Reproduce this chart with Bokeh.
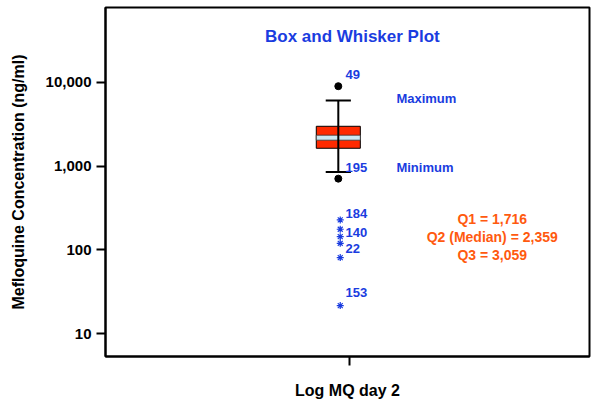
from bokeh.plotting import figure
from bokeh.models import Range1d, FixedTicker, NumeralTickFormatter
from bokeh.core.properties import value
from bokeh.embed import file_html
from bokeh.resources import INLINE

# ---- data ----
category = "Log MQ day 2"
q1 = 1630
median = 2180
q3 = 2980
whisker_max = 6070
whisker_min = 848
outlier_ids = ["49", "195"]
outlier_vals = [8960, 708]
extreme_ids = ["184", "140", "22", "153"]
extreme_vals = [228, 176.5, 144, 120, 81, 21.7]
stated_q = ["Q1 = 1,716", "Q2 (Median) = 2,359", "Q3 = 3,059"]
y_ticks = [10, 100, 1000, 10000]

# ---- styling / positions ----
BLUE = "#1a3ce0"
ORANGE = "#ff5a0f"
RED = "#ff2a00"
FONT = value("Liberation Sans")

cat_x = 1.0            # position of the single category on the x axis
box_x = 0.977          # box drawn slightly left of the tick (as in reference)
box_w = 0.091
cap_w = 0.052
star_x = 0.981
lab_x = 0.992
side_x = 1.097
q_x = 1.295

p = figure(width=598, height=403, y_axis_type="log",
           x_range=Range1d(0.496, 1.496), y_range=Range1d(5.362, 77750),
           output_backend="svg", toolbar_location=None,
           min_border_left=105, min_border_right=9, min_border_top=7,
           min_border_bottom=47)
p.background_fill_color = "white"
p.border_fill_color = "white"
p.outline_line_color = "black"
p.outline_line_width = 2
p.xgrid.grid_line_color = None
p.ygrid.grid_line_color = None

# y axis
p.yaxis.ticker = FixedTicker(ticks=y_ticks)
p.yaxis.formatter = NumeralTickFormatter(format="0,0")
p.yaxis.axis_label = "Mefloquine Concentration (ng/ml)"
p.yaxis.axis_label_standoff = 16
p.yaxis.major_label_standoff = 5
# x axis
p.xaxis.ticker = FixedTicker(ticks=[cat_x])
p.xaxis.major_label_overrides = {cat_x: ""}
p.xaxis.major_label_text_font_size = "1px"
p.xaxis.major_label_standoff = 0
p.xaxis.axis_label = category
p.xaxis.axis_label_standoff = 16
for ax in (p.xaxis, p.yaxis):
    ax.axis_line_width = 2
    ax.axis_line_color = "black"
    ax.major_tick_line_width = 2
    ax.major_tick_line_color = "black"
    ax.major_tick_out = 9
    ax.major_tick_in = 0
    ax.minor_tick_line_color = None
    ax.major_label_text_font = "Liberation Sans"
    ax.major_label_text_font_style = "bold"
    ax.major_label_text_color = "black"
    ax.axis_label_text_font = "Liberation Sans"
    ax.axis_label_text_font_style = "bold"
    ax.axis_label_text_color = "black"
    ax.axis_label_text_font_size = "16px"
p.yaxis.major_label_text_font_size = "15px"

# whisker line and caps
p.segment(x0=[box_x], y0=[whisker_min], x1=[box_x], y1=[whisker_max],
          line_color="black", line_width=2)
p.segment(x0=[box_x - cap_w / 2] * 2, y0=[whisker_min, whisker_max],
          x1=[box_x + cap_w / 2] * 2, y1=[whisker_min, whisker_max],
          line_color="black", line_width=2)
# box
p.quad(left=[box_x - box_w / 2], right=[box_x + box_w / 2], bottom=[q1], top=[q3],
       fill_color=RED, line_color="black", line_width=1)
# median band
p.rect(x=[box_x], y=[median], width=box_w, height=5, height_units="screen",
       fill_color="#cce8f2", line_color="#333333", line_width=0.8)
p.segment(x0=[box_x], y0=[q1], x1=[box_x], y1=[q3], line_color="black", line_width=2)

# outliers (dots) and extremes (stars)
p.scatter(x=[box_x] * len(outlier_vals), y=outlier_vals, size=7,
          fill_color="black", line_color="black")
p.scatter(x=[star_x] * len(extreme_vals), y=extreme_vals, marker="asterisk",
          size=7, line_color=BLUE, line_width=1.2)

# case labels
lab_y = [12190, 952, 274, 161, 105, 31]
p.text(x=[lab_x] * 6, y=lab_y, text=outlier_ids + extreme_ids,
       text_font=FONT, text_font_style="bold", text_font_size="13px",
       text_color=BLUE, text_align="left", text_baseline="middle")
p.text(x=[side_x] * 2, y=[6340, 957], text=["Maximum", "Minimum"],
       text_font=FONT, text_font_style="bold", text_font_size="13px",
       text_color=BLUE, text_align="left", text_baseline="middle")
# title inside plot
p.text(x=[1.006], y=[35100], text=["Box and Whisker Plot"],
       text_font=FONT, text_font_style="bold", text_font_size="17px",
       text_color=BLUE, text_align="center", text_baseline="middle")
# quartile statements
p.text(x=[q_x] * 3, y=[234, 143, 87.2], text=stated_q,
       text_font=FONT, text_font_style="bold", text_font_size="14px",
       text_color=ORANGE, text_align="center", text_baseline="middle")

open("out.html", "w").write(file_html(p, INLINE))
